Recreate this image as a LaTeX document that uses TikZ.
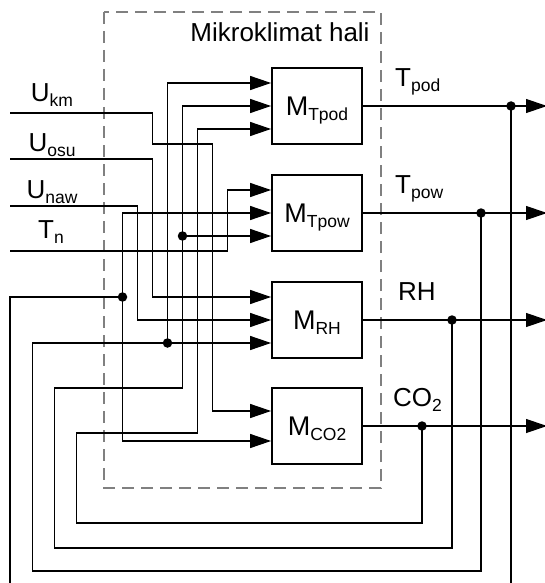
\documentclass[tikz,border=0pt]{standalone}
\usepackage{fontspec}
\setmainfont{Liberation Sans}
\usetikzlibrary{arrows.meta}
\newcommand{\lowsub}[1]{\raisebox{-5pt}[0pt][0pt]{\fontsize{17.5}{17.5}\selectfont #1}}
\begin{document}
\begin{tikzpicture}[x=1pt,y=-1pt,
  font=\fontsize{26}{30}\selectfont,
  wire/.style={line width=1.2pt},
  inarr/.style={-{Triangle[length=21pt,width=14pt]}},
  mbox/.style={draw, line width=1.8pt, minimum width=90pt, minimum height=76pt, inner sep=0pt, font=\fontsize{27}{30}\selectfont},
  dot/.style={circle, fill=black, inner sep=0pt, minimum size=9.5pt},
  lbl/.style={inner sep=0pt},
  region/.style={draw=black!50, line width=1.5pt, dash pattern=on 12pt off 7pt}]
\useasboundingbox (0,0) rectangle (545,583);
\clip (0,0) rectangle (545,583);
% dashed region
\draw[region] (104,12) rectangle (381,488);
\node[lbl, anchor=base] (title) at (280,42) {Mikroklimat hali};
% blocks
\node[mbox] (Tpod) at (317,106) {M\lowsub{Tpod}};
\node[mbox] (Tpow) at (317,213) {M\lowsub{Tpow}};
\node[mbox] (RH)   at (317,320) {M\lowsub{RH}};
\node[mbox] (CO)   at (317,426) {M\lowsub{CO2}};
% input ports
\coordinate (p1a) at ([yshift=23pt]Tpod.west);
\coordinate (p1b) at (Tpod.west);
\coordinate (p1c) at ([yshift=-23pt]Tpod.west);
\coordinate (p2a) at ([yshift=23pt]Tpow.west);
\coordinate (p2b) at (Tpow.west);
\coordinate (p2c) at ([yshift=-23pt]Tpow.west);
\coordinate (p3a) at ([yshift=23pt]RH.west);
\coordinate (p3b) at (RH.west);
\coordinate (p3c) at ([yshift=-23pt]RH.west);
\coordinate (p4a) at ([yshift=15pt]CO.west);
\coordinate (p4b) at ([yshift=-15pt]CO.west);
% external inputs
\coordinate (ukm)  at (10,113);
\coordinate (uosu) at (10,159);
\coordinate (unaw) at (10,206);
\coordinate (tn)   at (10,251);
\node[lbl, anchor=base] (lkm)  at (52,102) {U\lowsub{km}};
\node[lbl, anchor=base] (losu) at (52,151) {U\lowsub{osu}};
\node[lbl, anchor=base] (lnaw) at (52,198) {U\lowsub{naw}};
\node[lbl, anchor=base] (ltn)  at (51,238) {T\lowsub{n}};
\draw[wire,inarr] (ukm) -- (152.5,113) -- (152.5,144) -- (212.5,144) |- (p4a);
\draw[wire,inarr] (uosu) -- (152.5,159) |- (p3a);
\draw[wire,inarr] (unaw) -- (137.5,206) |- (p3b);
\draw[wire,inarr] (tn) -- (227.5,251) |- (p2a);
% outputs
\coordinate (opod) at (547,106);
\coordinate (opow) at (547,213);
\coordinate (orh)  at (547,320);
\coordinate (oco)  at (547,426);
\draw[wire,inarr] (Tpod.east) -- (opod);
\draw[wire,inarr] (Tpow.east) -- (opow);
\draw[wire,inarr] (RH.east) -- (orh);
\draw[wire,inarr] (CO.east) -- (oco);
\node[lbl, anchor=base west] (lpod) at (395,87) {T\lowsub{pod}};
\node[lbl, anchor=base west] (lpow) at (395,193) {T\lowsub{pow}};
\node[lbl, anchor=base west] (lrh)  at (398,300) {RH};
\node[lbl, anchor=base west] (lco)  at (393,406) {CO\lowsub{2}};
% output taps
\node[dot] (dpod) at (511,106) {};
\node[dot] (dpow) at (481,213) {};
\node[dot] (drh)  at (452,320) {};
\node[dot] (dco)  at (422,426) {};
% internal junctions
\node[dot] (jpod) at (122.5,297) {};
\node[dot] (jpow) at (167.5,343) {};
\node[dot] (jrh)  at (182.5,236) {};
% feedback T_pod
\draw[wire] (dpod.center) -- (511,600) -- (10,600) -- (10,297) -- (jpod.center);
\draw[wire,inarr] (jpod.center) |- (p2b);
\draw[wire,inarr] (jpod.center) |- (p4b);
% feedback T_pow
\draw[wire,inarr] (dpow.center) -- (481,571) -- (32.5,571) |- (p3c);
\draw[wire,inarr] (jpow.center) |- (p1a);
% feedback RH
\draw[wire,inarr] (drh.center) -- (452,548) -- (54.5,548) -- (54.5,388) -- (182.5,388) |- (p1b);
\draw[wire,inarr] (jrh.center) -- (p2c);
% feedback CO2
\draw[wire,inarr] (dco.center) -- (422,523) -- (76.5,523) -- (76.5,433) -- (197.5,433) |- (p1c);
\end{tikzpicture}
\end{document}
